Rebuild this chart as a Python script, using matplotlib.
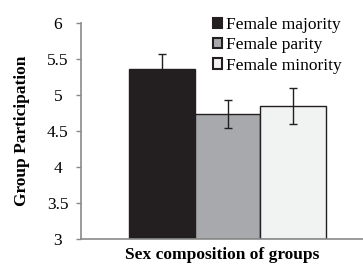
import matplotlib.pyplot as plt

plt.rcParams['font.family'] = ['Liberation Serif', 'DejaVu Serif']

groups = ['Female majority', 'Female parity', 'Female minority']
means = [5.37, 4.74, 4.85]
errors = [0.21, 0.19, 0.25]
colors = ['#231f20', '#a7a9ac', '#f1f2f2']

fig = plt.figure(figsize=(3.63, 2.66), dpi=100)
ax = fig.add_axes([0.223, 0.101, 0.777, 0.811])

for i, (name, m, e, c) in enumerate(zip(groups, means, errors, colors)):
    ax.bar(i, m - 3, bottom=3, width=1.0, color=c, edgecolor='#231f20',
           linewidth=1.0, label=name, zorder=2)
    ax.errorbar(i, m, yerr=e, fmt='none', ecolor='#231f20', elinewidth=1.0,
                capsize=3, capthick=1.0, zorder=3)

ax.set_xlim(-1.23, 3.06)
ax.set_ylim(3, 6)
ax.set_yticks([3, 3.5, 4, 4.5, 5, 5.5, 6])
ax.set_yticklabels(['3', '3.5', '4', '4.5', '5', '5.5', '6'], fontsize=12.5)
for lbl in ax.get_yticklabels():
    lbl.set_horizontalalignment('center')
ax.set_xticks([])

for s in ['top', 'right']:
    ax.spines[s].set_visible(False)
for s in ['left', 'bottom']:
    ax.spines[s].set_color('#8a8a8a')
    ax.spines[s].set_linewidth(1.2)
ax.tick_params(axis='y', length=3.6, width=1.0, color='#8a8a8a', pad=13)

ax.set_ylabel('Group Participation', fontsize=12.5, fontweight='bold', labelpad=12)
ax.set_xlabel('Sex composition of groups', fontsize=12.5, fontweight='bold', labelpad=6)

leg = ax.legend(loc='upper left', bbox_to_anchor=(0.468, 1.03), frameon=False,
                fontsize=12.5, handlelength=0.55, handleheight=0.55, handletextpad=0.2,
                labelspacing=0.25, borderaxespad=0, borderpad=0)
for h in leg.legend_handles:
    h.set_linewidth(1.5)

fig.savefig('out.png', dpi=100)
